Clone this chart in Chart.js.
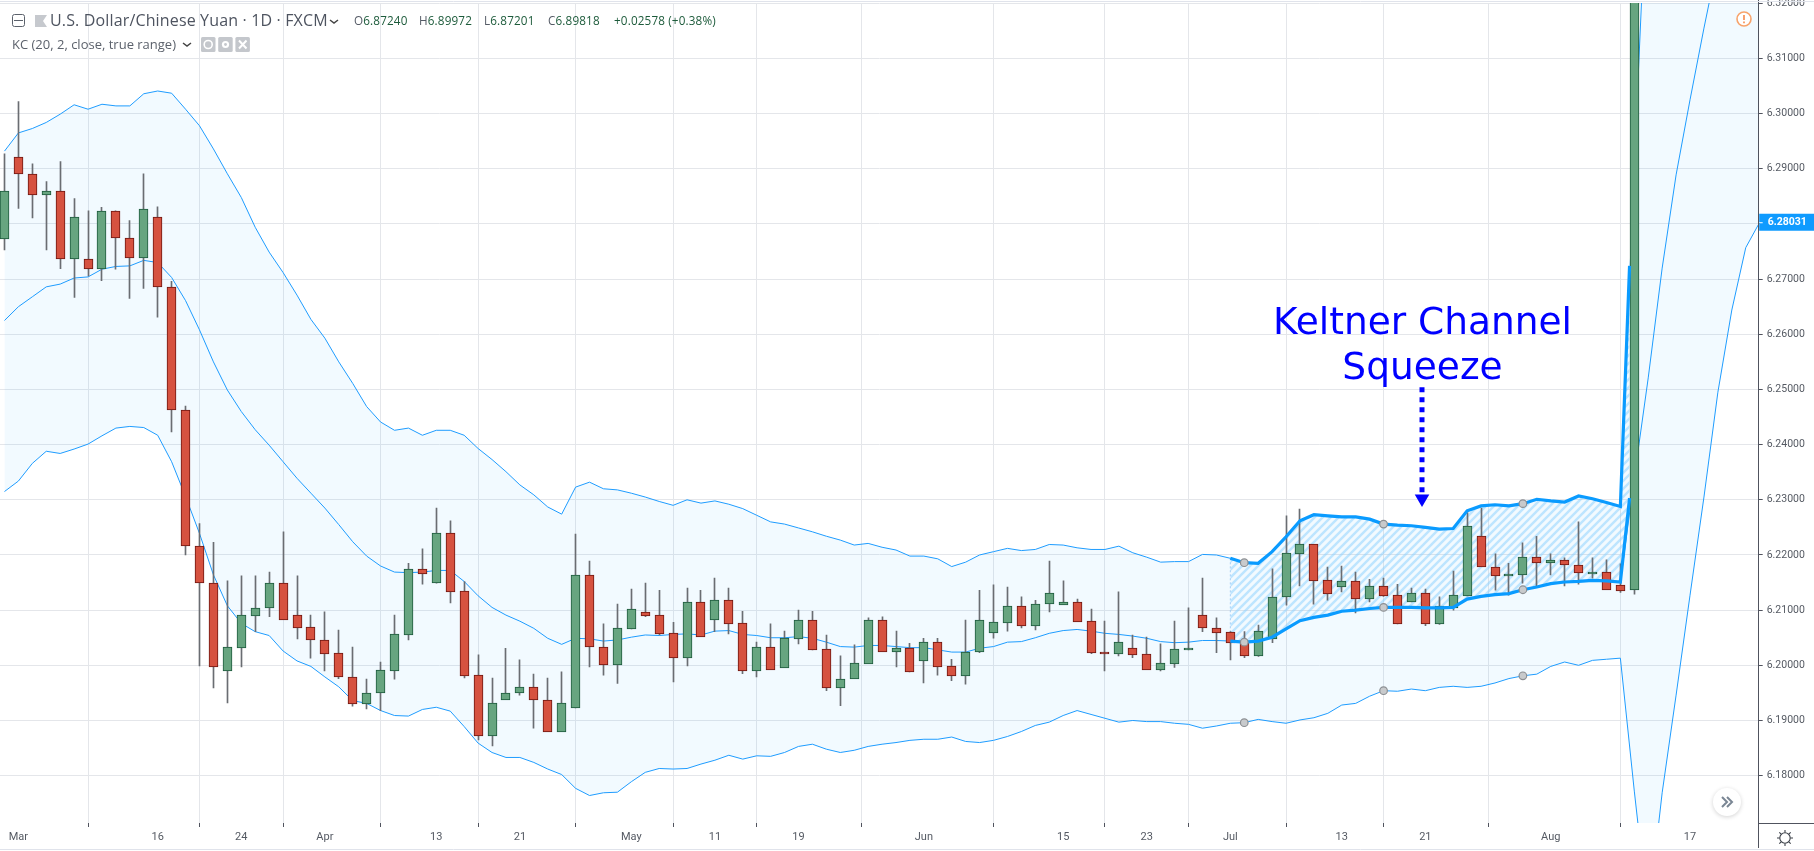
<!DOCTYPE html>
<html><head><meta charset="utf-8"><title>USD/CNY Keltner Channel Squeeze</title>
<script src="https://cdn.jsdelivr.net/npm/chart.js@4/dist/chart.umd.js"></script>
<style>
html,body{margin:0;padding:0;background:#fff;width:1814px;height:851px;overflow:hidden}
#wrap{position:relative;width:1814px;height:851px}
canvas{position:absolute;left:0;top:0}
.t{position:absolute;white-space:nowrap;font-family:"Open Sans",sans-serif;line-height:1}
.title{left:50px;top:12px;font-size:16px;color:#4e5460;letter-spacing:.15px}
.ohlc{top:15px;font-size:11.7px;color:#1d5b3b;letter-spacing:.15px}
.ohlc b{font-weight:400;color:#555b66}
.kc{left:12px;top:38px;font-size:13px;color:#5c626c}
.note{left:1222.5px;width:400px;text-align:center;font-family:"DejaVu Sans",sans-serif;font-size:37.5px;color:#0000ff}
svg{position:absolute}
</style></head><body><div id="wrap">
<canvas id="c" width="1814" height="851"></canvas>
<svg style="left:12px;top:14px" width="13" height="13"><rect x=".5" y=".5" width="12" height="12" rx="2" fill="#fff" stroke="#5c626c"/><path d="M2 6.5h9" stroke="#5c626c"/></svg>
<svg style="left:35px;top:15px" width="12" height="12"><path d="M0 0h12L8 6l4 6H0z" fill="#c6c9ce"/></svg>
<div class="t title">U.S. Dollar/Chinese Yuan · 1D · FXCM</div>
<svg style="left:329px;top:18px" width="10" height="8"><path d="M1 2l4 3 4-3" fill="none" stroke="#444" stroke-width="1.5"/></svg>
<div class="t ohlc" style="left:354px"><b>O</b>6.87240</div>
<div class="t ohlc" style="left:419px"><b>H</b>6.89972</div>
<div class="t ohlc" style="left:484px"><b>L</b>6.87201</div>
<div class="t ohlc" style="left:548px"><b>C</b>6.89818</div>
<div class="t ohlc" style="left:614px">+0.02578 (+0.38%)</div>
<div class="t kc">KC (20, 2, close, true range)</div>
<svg style="left:182px;top:41px" width="10" height="8"><path d="M1 2l4 3 4-3" fill="none" stroke="#444" stroke-width="1.5"/></svg>
<svg style="left:201px;top:37px" width="49" height="15"><rect width="14.5" height="15" rx="1.5" fill="#c4c7cc"/><circle cx="7.2" cy="7.5" r="4" fill="none" stroke="#fff" stroke-width="1.6"/><rect x="17.2" width="14.5" height="15" rx="1.5" fill="#c4c7cc"/><circle cx="24.5" cy="7.5" r="3.6" fill="#fff"/><circle cx="24.5" cy="7.5" r="1.4" fill="#c4c7cc"/><rect x="34.4" width="14.5" height="15" rx="1.5" fill="#c4c7cc"/><path d="M38 3.5l7.5 8M45.5 3.5l-7.5 8" stroke="#fff" stroke-width="2"/></svg>
<svg style="left:1735px;top:10px" width="18" height="18"><circle cx="9" cy="9" r="7" fill="#fff" stroke="#f7a36b" stroke-width="1.6"/><path d="M9 5v5M9 11.6v1.6" stroke="#f7894a" stroke-width="1.6"/></svg>
<div style="position:absolute;left:1713px;top:788px;width:28px;height:28px;border-radius:50%;background:#fff;box-shadow:0 1px 4px rgba(0,0,0,.18)"></div>
<svg style="left:1720px;top:795px" width="14" height="14"><path d="M2 2l5 5-5 5M7 2l5 5-5 5" fill="none" stroke="#7a8694" stroke-width="2"/></svg>
<svg style="left:1777px;top:830px" width="16" height="16"><circle cx="8" cy="8" r="5.2" fill="#fff" stroke="#3a3f47" stroke-width="1.1"/><path d="M8 0v2.6M8 13.4V16M0 8h2.6M13.4 8H16M2.3 2.3l1.9 1.9M11.8 11.8l1.9 1.9M13.7 2.3l-1.9 1.9M4.2 11.8l-1.9 1.9" stroke="#3a3f47" stroke-width="1.1"/></svg>
<div class="t note" style="top:303px">Keltner Channel</div>
<div class="t note" style="top:348px">Squeeze</div>
</div>
<script>
// ---- candles (index 0 = 28 Feb) ----
const open=[6.2772,6.2921,6.2891,6.2852,6.2860,6.2736,6.2737,6.2718,6.2824,6.2775,
6.2738,6.2813,6.2686,6.2462,6.2217,6.2150,6.1990,6.2032,6.2090,6.2103,
6.2149,6.2092,6.2069,6.2045,6.2022,6.1978,6.1929,6.1949,6.1990,6.2055,
6.2174,6.2149,6.2239,6.2134,6.1982,6.1872,6.1938,6.1949,6.1960,6.1938,
6.1880,6.1923,6.2163,6.2034,6.2001,6.2066,6.2096,6.2091,6.2058,6.2014,
6.2114,6.2083,6.2118,6.2076,6.1990,6.2033,6.1996,6.2048,6.2082,6.2029,
6.1958,6.1976,6.2003,6.2083,6.2025,6.2031,6.2008,6.2042,6.1998,6.1981,
6.2025,6.2059,6.2077,6.2107,6.2072,6.2112,6.2110,6.2114,6.2080,6.2024,
6.2021,6.2031,6.2020,6.1992,6.2003,6.2028,6.2092,6.2067,6.2060,6.2040,
6.2017,6.2048,6.2123,6.2202,6.2219,6.2154,6.2142,6.2152,6.2121,6.2143,
6.2127,6.2115,6.2131,6.2074,6.2103,6.2126,6.2234,6.2179,6.2162,6.2164,
6.2196,6.2186,6.2190,6.2181,6.2168,6.2170,6.2145,6.2136];
const close=[6.2860,6.2890,6.2852,6.2860,6.2736,6.2813,6.2718,6.2824,6.2774,6.2738,
6.2827,6.2685,6.2462,6.2217,6.2150,6.1997,6.2033,6.2091,6.2103,6.2149,
6.2083,6.2068,6.2045,6.2021,6.1978,6.1929,6.1949,6.1991,6.2056,6.2174,
6.2166,6.2239,6.2133,6.1981,6.1872,6.1931,6.1949,6.1960,6.1938,6.1880,
6.1931,6.2163,6.2034,6.2001,6.2067,6.2102,6.2090,6.2057,6.2014,6.2114,
6.2052,6.2118,6.2075,6.1990,6.2033,6.1992,6.2049,6.2082,6.2028,6.1958,
6.1976,6.2004,6.2083,6.2025,6.2031,6.1988,6.2042,6.1997,6.1981,6.2025,
6.2083,6.2078,6.2107,6.2072,6.2112,6.2131,6.2114,6.2079,6.2023,6.2022,
6.2042,6.2019,6.1992,6.2004,6.2029,6.2031,6.2067,6.2059,6.2040,6.2017,
6.2062,6.2123,6.2203,6.2219,6.2153,6.2130,6.2152,6.2121,6.2143,6.2126,
6.2075,6.2131,6.2074,6.2107,6.2127,6.2252,6.2179,6.2162,6.2165,6.2196,
6.2186,6.2190,6.2181,6.2168,6.2170,6.2137,6.2135,6.89818];
const high=[6.2927,6.3022,6.2909,6.2877,6.2913,6.2846,6.2824,6.2830,6.2824,6.2806,
6.2891,6.2831,6.2696,6.2470,6.2257,6.2223,6.2153,6.2162,6.2162,6.2169,
6.2242,6.2162,6.2091,6.2097,6.2064,6.2033,6.1975,6.2006,6.2091,6.2185,
6.2211,6.2285,6.2262,6.2152,6.2019,6.1977,6.2031,6.2010,6.1984,6.1977,
6.1988,6.2238,6.2189,6.2075,6.2111,6.2138,6.2149,6.2136,6.2078,6.2140,
6.2136,6.2158,6.2140,6.2098,6.2042,6.2075,6.2062,6.2100,6.2098,6.2055,
6.2017,6.2037,6.2086,6.2088,6.2062,6.2040,6.2049,6.2049,6.2011,6.2082,
6.2136,6.2146,6.2142,6.2124,6.2118,6.2189,6.2153,6.2120,6.2102,6.2080,
6.2133,6.2055,6.2051,6.2039,6.2080,6.2104,6.2158,6.2086,6.2061,6.2061,
6.2073,6.2175,6.2271,6.2283,6.2219,6.2178,6.2180,6.2169,6.2156,6.2158,
6.2147,6.2140,6.2138,6.2124,6.2171,6.2277,6.2285,6.2202,6.2185,6.2222,
6.2234,6.2202,6.2195,6.2260,6.2195,6.2191,6.2184,6.89972];
const low=[6.2753,6.2828,6.2811,6.2753,6.2719,6.2667,6.2706,6.2697,6.2718,6.2665,
6.2683,6.2631,6.2423,6.2200,6.1999,6.1959,6.1932,6.1997,6.2061,6.2088,
6.2083,6.2048,6.2013,6.1990,6.1976,6.1926,6.1921,6.1918,6.1975,6.2046,
6.2147,6.2149,6.2113,6.1977,6.1865,6.1854,6.1938,6.1946,6.1886,6.1880,
6.1880,6.1923,6.1997,6.1982,6.1967,6.2066,6.2088,6.2055,6.1970,6.1999,
6.2052,6.2061,6.2057,6.1985,6.1979,6.1992,6.1996,6.2039,6.2028,6.1954,
6.1927,6.1976,6.2003,6.2025,6.1997,6.1988,6.1968,6.1982,6.1972,6.1966,
6.2023,6.2049,6.2062,6.2068,6.2064,6.2097,6.2110,6.2079,6.2021,6.1990,
6.2017,6.2014,6.1992,6.1990,6.1996,6.2028,6.2061,6.2023,6.2010,6.2014,
6.2016,6.2041,6.2109,6.2144,6.2111,6.2118,6.2133,6.2095,6.2115,6.2125,
6.2075,6.2115,6.2072,6.2074,6.2100,6.2126,6.2179,6.2136,6.2127,6.2149,
6.2144,6.2164,6.2144,6.2147,6.2158,6.2137,6.2132,6.2129];
// ---- Keltner channel (20, 2, close, true range) ----
const kcUpper=[6.2932,6.2965,6.2973,6.2984,6.2999,6.3016,6.3008,6.3017,6.3014,6.3014,
6.3036,6.3041,6.3037,6.3008,6.2978,6.2936,6.2891,6.2848,6.2794,6.2749,
6.2712,6.2671,6.2627,6.2593,6.2550,6.2511,6.2469,6.2441,6.2426,6.2430,
6.2417,6.2426,6.2426,6.2417,6.2393,6.2373,6.2351,6.2327,6.2309,6.2287,
6.2274,6.2323,6.2332,6.2320,6.2318,6.2312,6.2305,6.2297,6.2290,6.2300,
6.2294,6.2298,6.2292,6.2284,6.2272,6.2260,6.2256,6.2249,6.2242,6.2234,
6.2227,6.2218,6.2221,6.2214,6.2209,6.2198,6.2198,6.2193,6.2179,6.2187,
6.2200,6.2206,6.2212,6.2208,6.2210,6.2219,6.2218,6.2213,6.2210,6.2210,
6.2216,6.2204,6.2196,6.2187,6.2188,6.2188,6.2201,6.2200,6.2194,6.2186,
6.2185,6.2206,6.2233,6.2262,6.2273,6.2271,6.2269,6.2269,6.2265,6.2256,
6.2254,6.2253,6.2250,6.2247,6.2248,6.2280,6.2289,6.2291,6.2289,6.2293,
6.2301,6.2298,6.2296,6.2307,6.2302,6.2295,6.2288,6.2907,6.3478,6.40,
6.45,6.50,6.54,6.58,6.62,6.65,6.68];
const kcMiddle=[6.2625,6.2650,6.2668,6.2686,6.2691,6.2702,6.2704,6.2718,6.2723,6.2724,
6.2734,6.2730,6.2703,6.2661,6.2608,6.2550,6.2499,6.2460,6.2427,6.2399,
6.2369,6.2339,6.2312,6.2285,6.2255,6.2224,6.2198,6.2180,6.2169,6.2168,
6.2169,6.2172,6.2172,6.2152,6.2126,6.2105,6.2091,6.2080,6.2067,6.2049,
6.2038,6.2049,6.2048,6.2044,6.2046,6.2051,6.2055,6.2054,6.2056,6.2057,
6.2055,6.2062,6.2063,6.2056,6.2054,6.2050,6.2050,6.2052,6.2049,6.2042,
6.2034,6.2033,6.2036,6.2036,6.2034,6.2032,6.2032,6.2028,6.2024,6.2024,
6.2031,6.2034,6.2042,6.2043,6.2050,6.2058,6.2063,6.2065,6.2062,6.2058,
6.2056,6.2053,6.2049,6.2043,6.2041,6.2042,6.2045,6.2045,6.2044,6.2042,
6.2044,6.2051,6.2066,6.2081,6.2087,6.2091,6.2098,6.2100,6.2103,6.2105,
6.2105,6.2105,6.2104,6.2104,6.2105,6.2120,6.2125,6.2128,6.2130,6.2137,
6.2142,6.2148,6.2151,6.2152,6.2154,6.2153,6.2151,6.2340,6.2521,6.2720,
6.2889,6.3025,6.3155,6.3278,6.3387,6.3487,6.3578];
const kcLower=[6.2315,6.2334,6.2366,6.2388,6.2384,6.2392,6.2401,6.2416,6.2430,6.2433,
6.2431,6.2417,6.2369,6.2306,6.2239,6.2164,6.2108,6.2076,6.2061,6.2054,
6.2026,6.2008,6.1998,6.1979,6.1961,6.1936,6.1931,6.1918,6.1909,6.1908,
6.1920,6.1924,6.1917,6.1889,6.1859,6.1842,6.1833,6.1833,6.1824,6.1812,
6.1802,6.1777,6.1764,6.1769,6.1770,6.1789,6.1806,6.1813,6.1812,6.1813,
6.1821,6.1828,6.1837,6.1830,6.1836,6.1835,6.1842,6.1853,6.1857,6.1848,
6.1842,6.1846,6.1853,6.1857,6.1860,6.1864,6.1866,6.1866,6.1870,6.1862,
6.1860,6.1864,6.1871,6.1880,6.1891,6.1897,6.1909,6.1918,6.1911,6.1904,
6.1897,6.1900,6.1898,6.1898,6.1895,6.1893,6.1886,6.1890,6.1895,6.1896,
6.1902,6.1898,6.1895,6.1901,6.1905,6.1913,6.1928,6.1931,6.1944,6.1954,
6.1953,6.1957,6.1954,6.1960,6.1962,6.1960,6.1962,6.1968,6.1976,6.1981,
6.1984,6.1998,6.2006,6.2000,6.2009,6.2011,6.2013,6.1772,6.1547,6.1769,
6.1946,6.2127,6.2305,6.2495,6.2644,6.2757,6.2803];
// ---- axes ----
const xTickIndex=[1,11,17,23,31,37,45,51,57,66,76,82,88,96,102,111,121];
const xTickLabels=["Mar","16","24","Apr","13","21","May","11","19","Jun","15","23","Jul","13","21","Aug","17"];
const priceTicks=[6.18,6.19,6.20,6.21,6.22,6.23,6.24,6.25,6.26,6.27,6.28,6.29,6.30,6.31,6.32];
const xRange=[-0.3209,125.93], yRange=[6.17142,6.32005];
const lastPrice=6.28031;
// ---- drawn squeeze region and annotation ----
const squeezeStart=88, squeezeEndIdx=116;
const squeezeEnd={x:116.66,upper:6.2724,lower:6.2303};
const handleIndex=[89,99,109];
const arrowX=101.76, arrowShaft=[6.2504,6.2312], arrowHead=6.2302;

const RED='#d65240',REDB='#6e1610',GREEN='#67a580',GREENB='#1d5a3c',WICK='#6a6d72',LINE='#1e9cff',AXIS='#50535e',GRID='#e4e6ea',BAND='rgba(30,170,255,.06)';
const line=a=>a.map((y,x)=>({x,y}));
const wicks=high.map((h,x)=>({x,y:[low[x],h]}));
const bodies=open.map((o,x)=>({x,y:[o,close[x]]}));
const isUp=open.map((o,x)=>close[x]>=o);
const sq=(a,end)=>a.slice(squeezeStart,squeezeEndIdx+1).map((y,i)=>({x:squeezeStart+i,y})).concat([{x:squeezeEnd.x,y:end}]);
const handles=handleIndex.flatMap(i=>[{x:i,y:kcUpper[i]},{x:i,y:kcMiddle[i]},{x:i,y:kcLower[i]}]);

const tile=document.createElement('canvas');tile.width=tile.height=8;
const g=tile.getContext('2d');g.strokeStyle='rgba(135,208,255,.5)';g.lineWidth=2.4;
g.beginPath();g.moveTo(-2,10);g.lineTo(10,-2);g.moveTo(-2,2);g.lineTo(2,-2);g.moveTo(6,10);g.lineTo(10,6);g.stroke();
const hatch=document.createElement('canvas').getContext('2d').createPattern(tile,'repeat');

const base={pointRadius:0,tension:0};
const crispPlugin={id:'crisp',beforeDatasetsDraw(c){
  [3,4].forEach(i=>c.getDatasetMeta(i).data.forEach(b=>{
    b.x=Math.round(b.x-.5)+.5;
    if(i===4){
      let t=Math.round(Math.min(b.y,b.base)),u=Math.round(Math.max(b.y,b.base));
      if(u-t<2)u=t+2;
      b.y=t;b.base=u;
    }
  }));
}};
const framePlugin={id:'frame',afterDraw(c){
  const x=c.ctx,yS=c.scales.y,r=c.chartArea.right,b=c.chartArea.bottom;
  x.save();x.strokeStyle=AXIS;x.lineWidth=1;
  x.beginPath();x.moveTo(Math.floor(r)+.5,0);x.lineTo(Math.floor(r)+.5,848);x.moveTo(r,Math.floor(b)+.5);x.lineTo(1814,Math.floor(b)+.5);x.stroke();
  x.strokeStyle='#e0e3eb';x.beginPath();x.moveTo(0,1.5);x.lineTo(1814,1.5);x.moveTo(0,849.5);x.lineTo(1814,849.5);x.stroke();
  const py=yS.getPixelForValue(lastPrice);
  x.fillStyle='#0f9bff';x.fillRect(r+.5,py-8.5,1814-r,17);
  x.strokeStyle='#fff';x.beginPath();x.moveTo(r+.5,py+.5);x.lineTo(r+4,py+.5);x.stroke();
  x.fillStyle='#fff';x.font='bold 10.5px Roboto';x.textBaseline='middle';x.fillText(lastPrice.toFixed(5),r+9,py+.5);
  x.restore();
}};
new Chart(document.getElementById('c'),{
  type:'bar',
  data:{datasets:[
   {type:'line',data:line(kcUpper),borderColor:LINE,borderWidth:1,...base,order:9,fill:{target:2,above:BAND,below:BAND}},
   {type:'line',data:line(kcMiddle),borderColor:LINE,borderWidth:1,...base,order:8,fill:false},
   {type:'line',data:line(kcLower),borderColor:LINE,borderWidth:1,...base,order:8,fill:false},
   {type:'bar',data:wicks,grouped:false,barThickness:1,backgroundColor:WICK,borderWidth:0,order:7},
   {type:'bar',data:bodies,grouped:false,barThickness:9,backgroundColor:isUp.map(u=>u?GREEN:RED),borderColor:isUp.map(u=>u?GREENB:REDB),borderWidth:1,borderSkipped:false,order:6},
   {type:'line',data:sq(kcUpper,squeezeEnd.upper),borderColor:'#0a9bff',borderWidth:3.2,...base,order:4,fill:false},
   {type:'line',data:sq(kcMiddle,squeezeEnd.lower),borderColor:'#0a9bff',borderWidth:3.2,...base,order:3,fill:false},
   {type:'line',data:sq(kcUpper,squeezeEnd.upper),borderWidth:0,borderColor:'transparent',...base,order:7.6,fill:{target:8,above:hatch,below:hatch}},
   {type:'line',data:sq(kcMiddle,squeezeEnd.lower),borderWidth:0,borderColor:'transparent',...base,order:7.6,fill:false},
   {type:'line',data:[{x:squeezeStart,y:kcUpper[squeezeStart]},{x:squeezeStart,y:kcMiddle[squeezeStart]}],borderColor:'rgba(120,180,240,.6)',borderWidth:1,borderDash:[2,2],...base,order:7.5,fill:false},
   {type:'scatter',data:handles,showLine:false,pointRadius:3.8,pointBackgroundColor:'#c8cacc',pointBorderColor:'#8c8f93',pointBorderWidth:1.2,order:2},
   {type:'line',data:arrowShaft.map(y=>({x:arrowX,y})),borderColor:'#0000ff',borderWidth:5,borderDash:[5,5],...base,order:1,fill:false},
   {type:'scatter',data:[{x:arrowX,y:arrowHead}],showLine:false,pointStyle:'triangle',rotation:180,pointRadius:8.4,pointBackgroundColor:'#0000ff',pointBorderColor:'#0000ff',pointBorderWidth:0,order:0}
  ]},
  options:{responsive:false,animation:false,events:[],devicePixelRatio:1,
   layout:{padding:{top:3,left:0,right:0,bottom:0},autoPadding:false},
   plugins:{legend:{display:false},tooltip:{enabled:false},title:{display:false}},
   scales:{
    x:{type:'linear',position:'bottom',min:xRange[0],max:xRange[1],offset:false,bounds:'data',
       grid:{color:GRID,tickColor:AXIS,tickLength:4,lineWidth:1},border:{display:false},
       afterFit:s=>{s.height=28;s.paddingLeft=0;s.paddingRight=0},
       afterBuildTicks:s=>{s.ticks=xTickIndex.map(value=>({value}))},
       ticks:{autoSkip:false,maxRotation:0,padding:4,color:'#555a63',font:{family:'Roboto',size:11},callback:(v,i)=>xTickLabels[i]}},
    y:{type:'linear',position:'right',min:yRange[0],max:yRange[1],bounds:'data',
       grid:{color:GRID,tickColor:AXIS,tickLength:4,lineWidth:1},border:{display:false},
       afterFit:s=>{s.width=55.3;s.paddingTop=0;s.paddingBottom=0},
       afterBuildTicks:s=>{s.ticks=priceTicks.map(value=>({value}))},
       ticks:{autoSkip:false,padding:4,color:'#555a63',font:{family:'Roboto',size:10.5},callback:v=>Math.abs(v-6.28)<1e-6?'':v.toFixed(5)}}
   }},
  plugins:[crispPlugin,framePlugin]
});
</script></body></html>
